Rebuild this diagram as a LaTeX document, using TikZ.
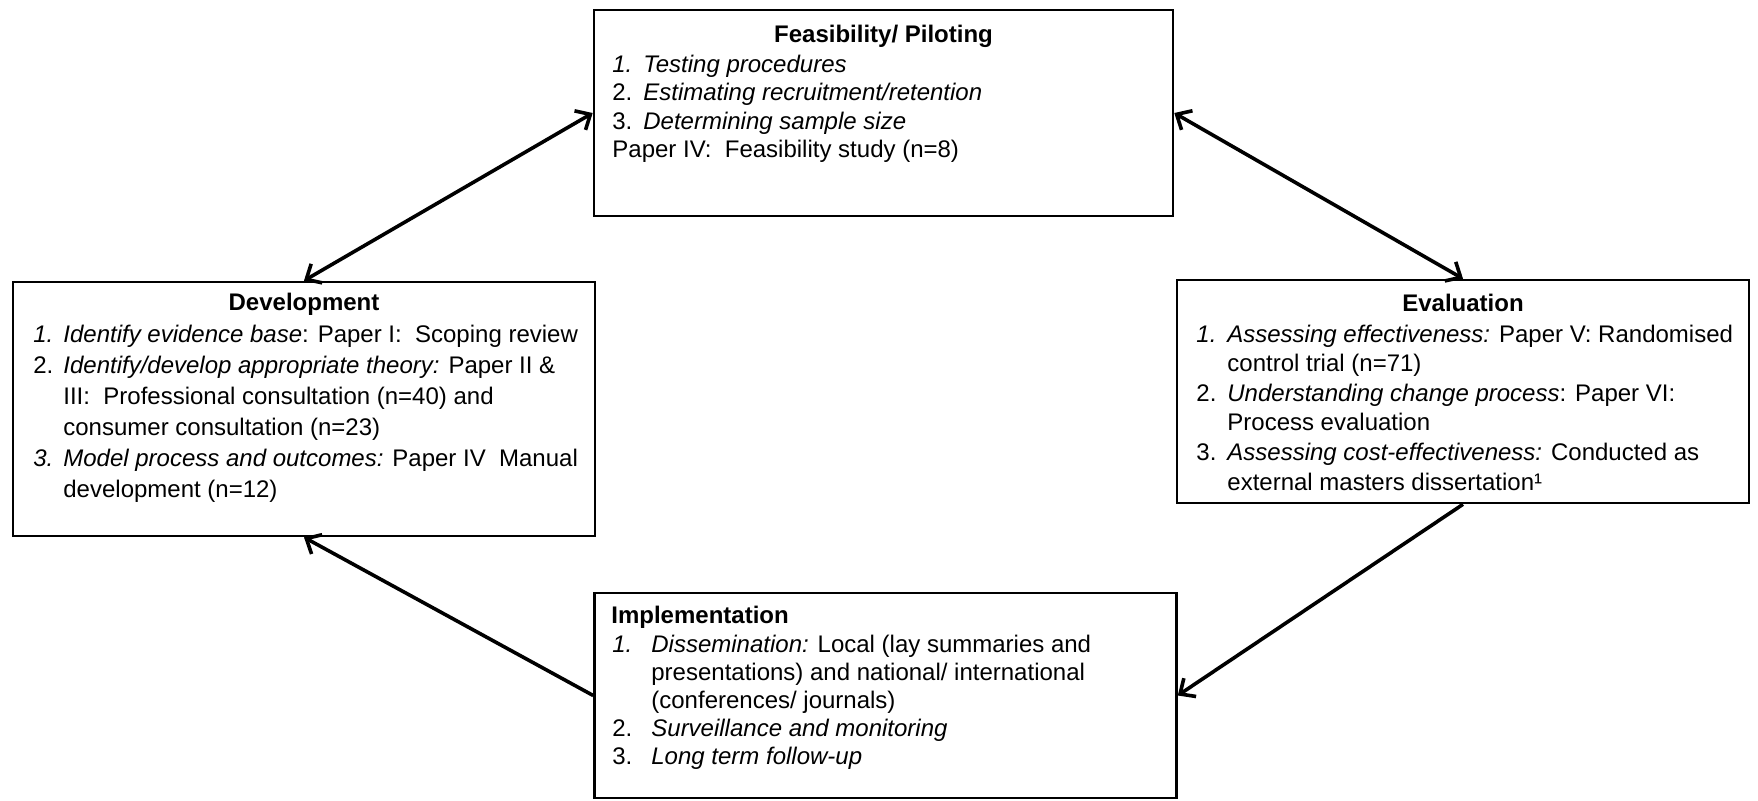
\documentclass[tikz,border=0pt]{standalone}
\usepackage{fontspec}
\setmainfont{Liberation Sans}
\usetikzlibrary{arrows.meta}
\newcommand\myitem[3]{\makebox[#1][l]{#2}{#3}}
\newcommand\mycont[2]{\hspace*{#1}{#2}}
\begin{document}
\begin{tikzpicture}[x=0.5pt,y=-0.5pt,
  box/.style={draw=black, line width=1.3pt, fill=white, inner sep=0pt},
  ttl/.style={font=\fontsize{12}{14.5}\selectfont\bfseries, inner sep=0pt, anchor=base},
  txt/.style={font=\fontsize{12}{14.5}\selectfont, inner sep=0pt, anchor=base west},
  conn/.style={line width=1.8pt, -{Straight Barb[length=6pt,width=11pt]}},
  dconn/.style={line width=1.8pt, {Straight Barb[length=6pt,width=11pt]}-{Straight Barb[length=6pt,width=11pt]}}]
\path[fill=white, use as bounding box] (0,0) rectangle (1758,800);

% boxes
\node[box, minimum width=289.5pt, minimum height=103pt] (feas) at (883.5,113) {};
\node[box, minimum width=291pt, minimum height=127pt] (dev) at (304,409) {};
\node[box, minimum width=286pt, minimum height=111.5pt] (eval) at (1463,391.5) {};
\node[box, minimum width=291pt, minimum height=102.5pt] (impl) at (885.5,695.5) {};

% Feasibility
\node[ttl] (feasT) at (883.5,42) {Feasibility/ Piloting};
\node[txt] (feasB) at (612,72) {\parbox[t]{280pt}{\raggedright\baselineskip=14.3pt
\myitem{15.5pt}{\itshape 1.}{\itshape Testing procedures}\\
\myitem{15.5pt}{2.}{\itshape Estimating recruitment/retention}\\
\myitem{15.5pt}{3.}{\itshape Determining sample size}\\
Paper IV:\ \ Feasibility study (n=8)}};

% Development
\node[ttl] (devT) at (304,310) {Development};
\node[txt] (devB) at (33,342) {\parbox[t]{285pt}{\raggedright\baselineskip=15.5pt
\myitem{15pt}{\itshape 1.}{\textit{Identify evidence base}: Paper I:\ \ Scoping review}\\
\myitem{15pt}{2.}{\textit{Identify/develop appropriate theory:} Paper II \&}\\
\mycont{15pt}{III:\ \ Professional consultation (n=40) and}\\
\mycont{15pt}{consumer consultation (n=23)}\\
\myitem{15pt}{\itshape 3.}{\textit{Model process and outcomes:} Paper IV\ \ Manual}\\
\mycont{15pt}{development (n=12)}}};

% Evaluation
\node[ttl] (evalT) at (1463,311) {Evaluation};
\node[txt] (evalB) at (1196,342) {\parbox[t]{280pt}{\raggedright\baselineskip=14.8pt
\myitem{15.5pt}{\itshape 1.}{\textit{Assessing effectiveness:} Paper V: Randomised}\\
\mycont{15.5pt}{control trial (n=71)}\\
\myitem{15.5pt}{2.}{\textit{Understanding change process}: Paper VI:}\\
\mycont{15.5pt}{Process evaluation}\\
\myitem{15.5pt}{3.}{\textit{Assessing cost-effectiveness:} Conducted as}\\
\mycont{15.5pt}{external masters dissertation¹}}};

% Implementation
\node[ttl, anchor=base west] (implT) at (611,623) {Implementation};
\node[txt] (implB) at (612,652) {\parbox[t]{280pt}{\raggedright\baselineskip=14.1pt
\myitem{19.5pt}{\itshape 1.}{\textit{Dissemination:} Local (lay summaries and}\\
\mycont{19.5pt}{presentations) and national/ international}\\
\mycont{19.5pt}{(conferences/ journals)}\\
\myitem{19.5pt}{2.}{\itshape Surveillance and monitoring}\\
\myitem{19.5pt}{3.}{\itshape Long term follow-up}}};

% connectors
\draw[dconn] (dev.north) -- (feas.west);
\draw[dconn] (feas.east) -- (eval.north);
\draw[conn] (eval.south) -- (impl.east);
\draw[conn] (impl.west) -- (dev.south);
\end{tikzpicture}
\end{document}
